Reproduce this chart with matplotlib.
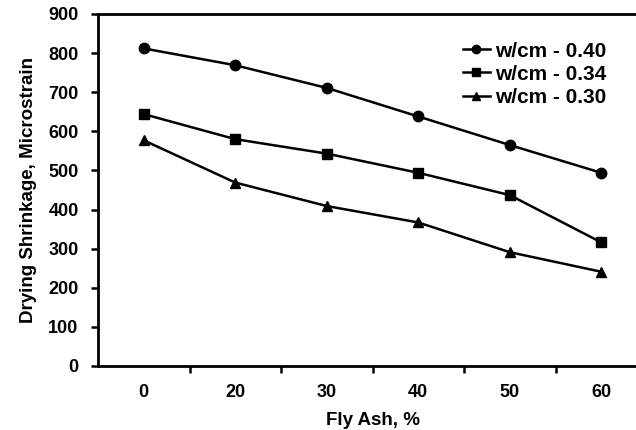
import matplotlib
matplotlib.use("Agg")
import matplotlib.pyplot as plt
import numpy as np

plt.rcParams['font.family'] = ['Liberation Sans', 'DejaVu Sans']
plt.rcParams['font.weight'] = 'bold'

# data
fly_ash = ["0", "20", "30", "40", "50", "60"]
wcm_040 = [812, 769, 711, 638, 565, 494]
wcm_034 = [644, 580, 543, 494, 437, 316]
wcm_030 = [577, 469, 409, 367, 291, 241]
labels = ["w/cm - 0.40", "w/cm - 0.34", "w/cm - 0.30"]

fig = plt.figure(figsize=(6.36, 4.30), dpi=100)
ax = fig.add_axes([98 / 636, 1 - 366 / 430, 549 / 636, 352 / 430])

x = np.arange(len(fly_ash))
ax.plot(x, wcm_040, 'k-', marker='o', ms=7.5, lw=1.8, label=labels[0])
ax.plot(x, wcm_034, 'k-', marker='s', ms=7.5, lw=1.8, label=labels[1])
ax.plot(x, wcm_030, 'k-', marker='^', ms=7.5, lw=1.8, label=labels[2])

ax.set_xlim(-0.5, len(fly_ash) - 0.5)
ax.set_ylim(0, 900)
ax.set_yticks(range(0, 901, 100))
ax.set_xticks(x)
ax.set_xticklabels(fly_ash)
ax.set_xticks(np.arange(0.5, len(fly_ash) - 0.5, 1), minor=True)
ax.tick_params(axis='x', which='major', length=0, pad=13, labelsize=13)
ax.tick_params(axis='x', which='minor', length=5, width=1.8, direction='out')
ax.tick_params(axis='y', length=5, width=1.8, direction='out', labelsize=13, pad=9)
for lab in ax.get_xticklabels() + ax.get_yticklabels():
    lab.set_fontweight('bold')

for s in ['left', 'bottom', 'top']:
    ax.spines[s].set_linewidth(2)
ax.spines['right'].set_visible(False)

ax.set_xlabel("Fly Ash, %", fontsize=13.5, fontweight='bold', labelpad=8)
ax.set_ylabel("Drying Shrinkage, Microstrain", fontsize=13.5, fontweight='bold', labelpad=8)

leg = ax.legend(loc='upper right', bbox_to_anchor=(0.96, 0.975), frameon=False,
                fontsize=15, handlelength=1.3, handletextpad=0.25,
                labelspacing=0.2, markerscale=0.8)

fig.savefig("out.png", dpi=100)
